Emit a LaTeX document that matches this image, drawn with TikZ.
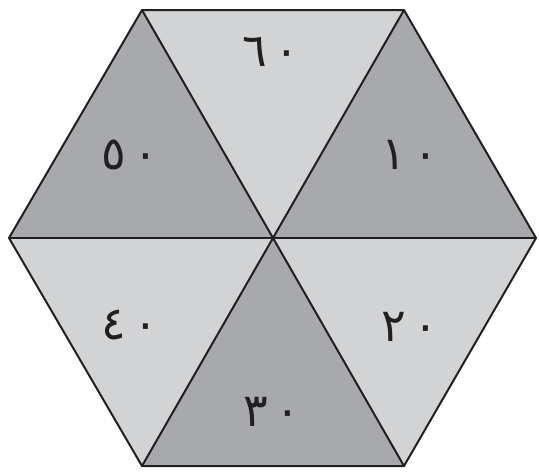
\documentclass[tikz,border=0pt]{standalone}
\usepackage{fontspec}
\newfontfamily\arabicfont[Script=Arabic]{DejaVu Sans}
\definecolor{lightg}{HTML}{D1D3D4}
\definecolor{darkg}{HTML}{A7A9AC}
\definecolor{ink}{HTML}{231F20}
\newcommand\dg[2]{#1\hspace{7pt}#2}
\begin{document}
\begin{tikzpicture}[x=1pt,y=-1pt,
  edge/.style={draw=ink,line width=2pt,line join=miter},
  lbl/.style={text=ink,font=\arabicfont\fontsize{46}{46}\selectfont,inner sep=0pt}]
\useasboundingbox (0,0) rectangle (539,472);
\coordinate (TL) at (142,10);
\coordinate (TR) at (404,10);
\coordinate (R) at (536,238);
\coordinate (BR) at (404,466);
\coordinate (BL) at (142,466);
\coordinate (L) at (9,238);
\coordinate (C) at (273,238);
\fill[lightg] (TL) -- (TR) -- (C) -- cycle;
\fill[darkg] (TR) -- (R) -- (C) -- cycle;
\fill[lightg] (R) -- (BR) -- (C) -- cycle;
\fill[darkg] (BR) -- (BL) -- (C) -- cycle;
\fill[lightg] (BL) -- (L) -- (C) -- cycle;
\fill[darkg] (L) -- (TL) -- (C) -- cycle;
\draw[edge] (TL) -- (BR);
\draw[edge] (TR) -- (BL);
\draw[edge] (L) -- (R);
\draw[edge] (TL) -- (TR) -- (R) -- (BR) -- (BL) -- (L) -- cycle;
\node[lbl] (n60) at (271,52) {\dg{٦}{٠}};
\node[lbl] (n10) at (410,155) {\dg{١}{٠}};
\node[lbl] (n20) at (410,327) {\dg{٢}{٠}};
\node[lbl] (n30) at (272,412) {\dg{٣}{٠}};
\node[lbl] (n40) at (130,325) {\dg{٤}{٠}};
\node[lbl] (n50) at (130,155) {\dg{٥}{٠}};
\end{tikzpicture}
\end{document}
